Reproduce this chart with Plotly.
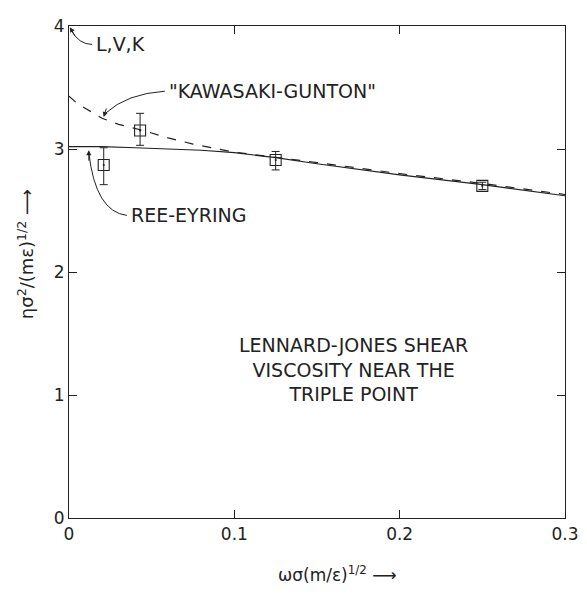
import plotly.graph_objects as go

# ---- data ----
ree_x = [0.0, 0.02, 0.04, 0.06, 0.08, 0.1, 0.125, 0.15, 0.2, 0.25, 0.3]
ree_y = [3.02, 3.02, 3.01, 3.0, 2.99, 2.97, 2.93, 2.88, 2.79, 2.71, 2.62]

kg_x = [0.0, 0.005, 0.01, 0.02, 0.03, 0.045, 0.06, 0.075, 0.09, 0.1, 0.15, 0.2, 0.25, 0.3]
kg_y = [3.43, 3.37, 3.33, 3.25, 3.2, 3.15, 3.09, 3.04, 3.0, 2.975, 2.89, 2.8, 2.72, 2.63]

md_x = [0.021, 0.043, 0.125, 0.25]
md_y = [2.87, 3.15, 2.91, 2.70]
md_err_plus = [0.14, 0.14, 0.07, 0.03]
md_err_minus = [0.16, 0.12, 0.08, 0.03]

x_ticks = [0, 0.1, 0.2, 0.3]
x_tick_labels = ["0", "0.1", "0.2", "0.3"]
y_ticks = [0, 1, 2, 3, 4]
y_tick_labels = ["0", "1", "2", "3", "4"]

FONT = "DejaVu Sans"
INK = "#222222"

fig = go.Figure()

fig.add_trace(go.Scatter(x=ree_x, y=ree_y, mode="lines",
                         line=dict(color=INK, width=1.2), showlegend=False))
fig.add_trace(go.Scatter(x=kg_x, y=kg_y, mode="lines",
                         line=dict(color=INK, width=1.2, dash="dash"), showlegend=False))
fig.add_trace(go.Scatter(
    x=md_x, y=md_y, mode="markers",
    marker=dict(symbol="square-open-dot", size=11, color=INK, line=dict(width=1.1)),
    error_y=dict(type="data", symmetric=False, array=md_err_plus, arrayminus=md_err_minus,
                 color=INK, thickness=1, width=4),
    showlegend=False))

# curved pointer lines
fig.add_shape(type="path", xref="x", yref="y",
              path="M 0.014,3.85 Q 0.006,3.85 0.001,3.97",
              line=dict(color=INK, width=1))
fig.add_shape(type="path", xref="x", yref="y",
              path="M 0.058,3.47 Q 0.035,3.45 0.022,3.29",
              line=dict(color=INK, width=1))
fig.add_shape(type="path", xref="x", yref="y",
              path="M 0.035,2.46 Q 0.016,2.49 0.012,2.97",
              line=dict(color=INK, width=1))

# arrowheads
for (xt, yt, ax, ay) in [(0.0005, 3.99, 6, 10), (0.021, 3.26, 3, -10), (0.012, 2.99, 0, 12)]:
    fig.add_annotation(x=xt, y=yt, ax=ax, ay=ay, xref="x", yref="y", text="",
                       showarrow=True, arrowhead=2, arrowsize=1, arrowwidth=1, arrowcolor=INK)

labels = [
    (0.015, 3.85, "L,V,K"),
    (0.059, 3.47, "\"KAWASAKI-GUNTON\""),
    (0.036, 2.46, "REE-EYRING"),
]
for (lx, ly, t) in labels:
    fig.add_annotation(x=lx, y=ly, xref="x", yref="y", text=t, showarrow=False,
                       xanchor="left", yanchor="middle",
                       font=dict(family=FONT, size=19, color=INK))

fig.add_annotation(x=0.172, y=1.21, xref="x", yref="y",
                   text="LENNARD-JONES SHEAR<br>VISCOSITY NEAR THE<br>TRIPLE POINT",
                   showarrow=False, align="center",
                   font=dict(family=FONT, size=19, color=INK))

# axis titles
fig.add_annotation(x=0.542, y=-0.113, xref="paper", yref="paper",
                   text="ωσ(m/ε)<sup>1/2</sup> ⟶", showarrow=False,
                   font=dict(family=FONT, size=17, color=INK), xanchor="center", yanchor="middle")
fig.add_annotation(x=-0.088, y=0.537, xref="paper", yref="paper", textangle=-90,
                   text="ησ<sup>2</sup>/(mε)<sup>1/2</sup> ⟶", showarrow=False,
                   font=dict(family=FONT, size=18, color=INK), xanchor="center", yanchor="middle")

fig.update_xaxes(range=[0, 0.3], tickvals=x_ticks, ticktext=x_tick_labels,
                 showgrid=False, zeroline=False, showline=True, linecolor=INK, linewidth=1.2,
                 mirror="ticks", ticks="inside", ticklen=8, tickcolor=INK,
                 ticklabeloverflow="allow",
                 tickfont=dict(family=FONT, size=17, color=INK))
fig.update_yaxes(range=[0, 4], tickvals=y_ticks, ticktext=y_tick_labels,
                 showgrid=False, zeroline=False, showline=True, linecolor=INK, linewidth=1.2,
                 mirror="ticks", ticks="inside", ticklen=8, tickcolor=INK,
                 ticklabeloverflow="allow",
                 tickfont=dict(family=FONT, size=17, color=INK))

# the page body adds an 8px offset; figure sized to fit the window without scrollbars
fig.update_layout(width=579, height=579,
                  margin=dict(l=61, r=18, t=8, b=69),
                  plot_bgcolor="white", paper_bgcolor="white")

fig.write_html("out.html")
